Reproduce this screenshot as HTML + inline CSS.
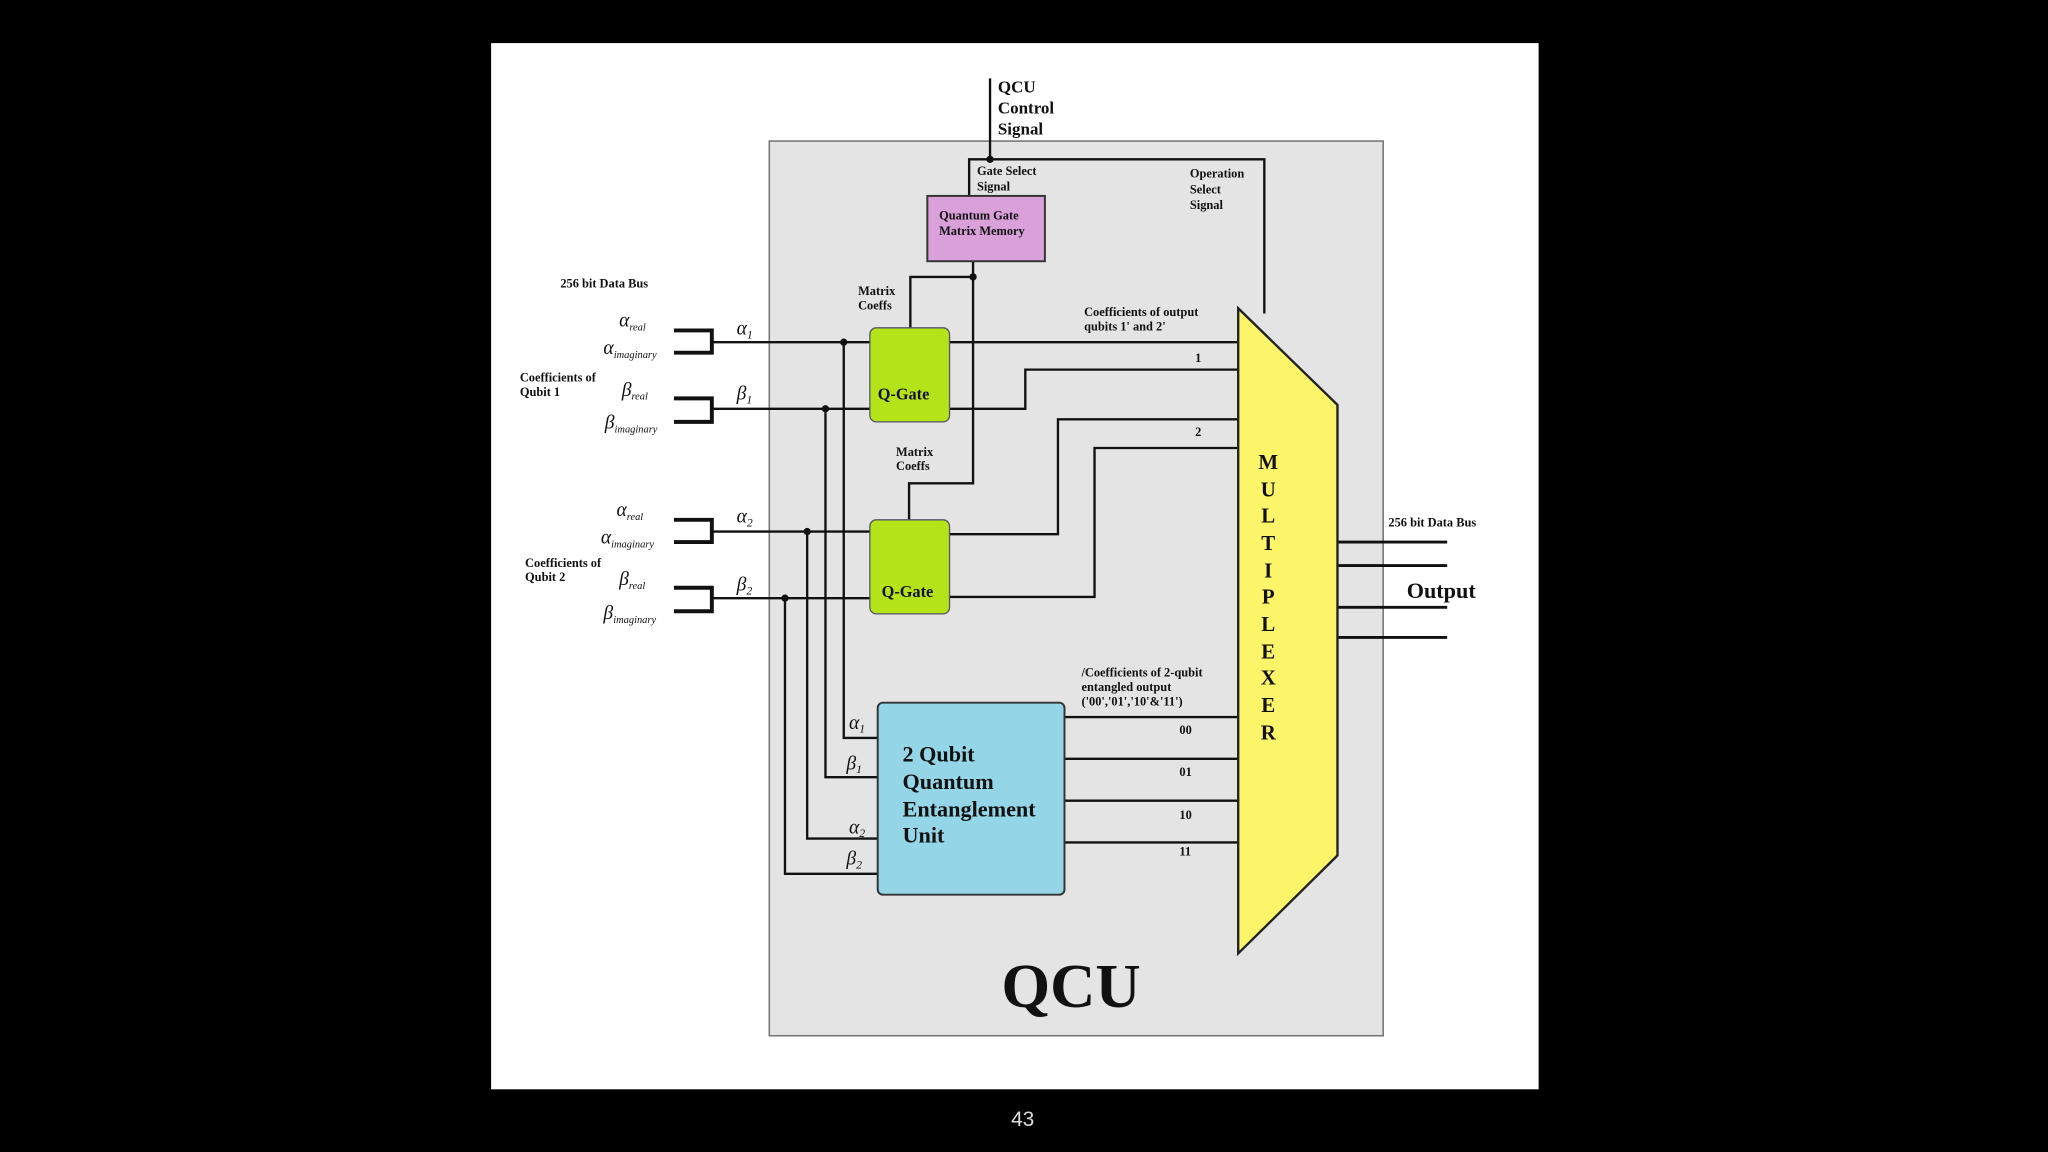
<!DOCTYPE html>
<html><head><meta charset="utf-8"><style>
html,body{margin:0;padding:0;background:#000;width:2048px;height:1152px;overflow:hidden}
svg{display:block}
text{font-family:"Liberation Serif",serif;fill:#111}
</style></head><body>
<svg width="2048" height="1152" viewBox="0 0 1568 882" xmlns="http://www.w3.org/2000/svg">
<rect x="0" y="0" width="1568" height="882" fill="#000"/>
<rect x="376" y="33" width="802" height="801" fill="#fff"/>
<rect x="589" y="108" width="470" height="685" fill="#e4e4e4" stroke="#777" stroke-width="1.2"/>
<g stroke="#111" stroke-width="1.8" fill="none">
<!-- control -->
<path d="M758 60 V122"/>
<path d="M742 150 V122 H968 V240"/>
<path d="M745 200 V370 H696 V398"/>
<path d="M745 212 H697 V251"/>
<!-- inputs brackets -->
<path d="M516 253 H545 V270 H516" stroke-width="3"/>
<path d="M516 305 H545 V323 H516" stroke-width="3"/>
<path d="M516 398 H545 V415 H516" stroke-width="3"/>
<path d="M516 450 H545 V468 H516" stroke-width="3"/>
<path d="M545 262 H666"/>
<path d="M545 313 H666"/>
<path d="M545 407 H666"/>
<path d="M545 458 H666"/>
<!-- verticals to EU -->
<path d="M646 262 V565 H672"/>
<path d="M632 313 V595 H672"/>
<path d="M618 407 V642 H672"/>
<path d="M601 458 V669 H672"/>
<!-- gate outputs -->
<path d="M727 262 H948"/>
<path d="M727 313 H785 V283 H948"/>
<path d="M727 409 H810 V321 H948"/>
<path d="M727 457 H838 V343 H948"/>
<!-- EU outputs -->
<path d="M815 549 H948 M815 581 H948 M815 613 H948 M815 645 H948"/>
<!-- mux outputs -->
<path d="M1024 415 H1108 M1024 433 H1108 M1024 465 H1108 M1024 488 H1108" stroke-width="2.2"/>
</g>
<g fill="#111">
<circle cx="758" cy="122" r="2.8"/><circle cx="745" cy="212" r="2.8"/>
<circle cx="646" cy="262" r="2.8"/><circle cx="632" cy="313" r="2.8"/>
<circle cx="618" cy="407" r="2.8"/><circle cx="601" cy="458" r="2.8"/>
</g>
<rect x="710" y="150" width="90" height="50" fill="#d9a0d9" stroke="#333" stroke-width="1.5"/>
<rect x="666" y="251" width="61" height="72" rx="5" fill="#b5e31a" stroke="#556" stroke-width="1"/>
<rect x="666" y="398" width="61" height="72" rx="5" fill="#b5e31a" stroke="#556" stroke-width="1"/>
<rect x="672" y="538" width="143" height="147" rx="4" fill="#94d6e8" stroke="#333" stroke-width="1.5"/>
<polygon points="948,236 1024,310 1024,655 948,730" fill="#fcf56a" stroke="#222" stroke-width="1.8"/>
<!-- text -->
<g font-weight="bold" font-size="13">
<text x="764" y="71">QCU</text><text x="764" y="87">Control</text><text x="764" y="103">Signal</text>
</g>
<g font-size="9.5" font-weight="bold">
<text x="748" y="134">Gate Select</text><text x="748" y="146">Signal</text>
<text x="911" y="136">Operation</text><text x="911" y="148">Select</text><text x="911" y="160">Signal</text>
<text x="719" y="168">Quantum Gate</text><text x="719" y="180">Matrix Memory</text>
<text x="657" y="226">Matrix</text><text x="657" y="237">Coeffs</text>
<text x="686" y="349">Matrix</text><text x="686" y="360">Coeffs</text>
<text x="429" y="220">256 bit Data Bus</text>
<text x="398" y="292">Coefficients of</text><text x="398" y="303">Qubit 1</text>
<text x="402" y="434">Coefficients of</text><text x="402" y="445">Qubit 2</text>
<text x="830" y="242">Coefficients of output</text><text x="830" y="253">qubits 1' and 2'</text>
<text x="828" y="518">/Coefficients of 2-qubit</text><text x="828" y="529">entangled output</text><text x="828" y="540">('00','01','10'&amp;'11')</text>
<text x="1063" y="403">256 bit Data Bus</text>
<text x="915" y="277">1</text><text x="915" y="334">2</text>
<text x="903" y="562">00</text><text x="903" y="594">01</text><text x="903" y="627">10</text><text x="903" y="655">11</text>
</g>
<g font-style="italic" font-size="15">
<text x="474" y="250">α<tspan font-size="8" dy="3">real</tspan></text>
<text x="462" y="271">α<tspan font-size="8" dy="3">imaginary</tspan></text>
<text x="476" y="303">β<tspan font-size="8" dy="3">real</tspan></text>
<text x="463" y="328">β<tspan font-size="8" dy="3">imaginary</tspan></text>
<text x="472" y="395">α<tspan font-size="8" dy="3">real</tspan></text>
<text x="460" y="416">α<tspan font-size="8" dy="3">imaginary</tspan></text>
<text x="474" y="448">β<tspan font-size="8" dy="3">real</tspan></text>
<text x="462" y="474">β<tspan font-size="8" dy="3">imaginary</tspan></text>
<text x="564" y="256">α<tspan font-size="9" dy="3">1</tspan></text>
<text x="564" y="306">β<tspan font-size="9" dy="3">1</tspan></text>
<text x="564" y="400">α<tspan font-size="9" dy="3">2</tspan></text>
<text x="564" y="452">β<tspan font-size="9" dy="3">2</tspan></text>
<text x="650" y="558">α<tspan font-size="9" dy="3">1</tspan></text>
<text x="648" y="589">β<tspan font-size="9" dy="3">1</tspan></text>
<text x="650" y="638">α<tspan font-size="9" dy="3">2</tspan></text>
<text x="648" y="662">β<tspan font-size="9" dy="3">2</tspan></text>
</g>
<g font-weight="bold">
<text x="672" y="306" font-size="12.5">Q-Gate</text>
<text x="675" y="457" font-size="12.5">Q-Gate</text>
<text x="691" y="583" font-size="17">2 Qubit</text>
<text x="691" y="604" font-size="17">Quantum</text>
<text x="691" y="625" font-size="17">Entanglement</text>
<text x="691" y="645" font-size="17">Unit</text>
<text x="1077" y="458" font-size="17">Output</text>
<text x="820" y="771" font-size="48" text-anchor="middle">QCU</text>
</g>
<g font-weight="bold" font-size="16" text-anchor="middle">
<text x="971" y="359">M</text><text x="971" y="380">U</text><text x="971" y="400">L</text>
<text x="971" y="421">T</text><text x="971" y="442">I</text><text x="971" y="462">P</text>
<text x="971" y="483">L</text><text x="971" y="504">E</text><text x="971" y="524">X</text>
<text x="971" y="545">E</text><text x="971" y="566">R</text>
</g>
<text x="783" y="862" font-size="16" text-anchor="middle" style="fill:#ddd;font-family:'Liberation Sans',sans-serif">43</text>
</svg>
</body></html>
